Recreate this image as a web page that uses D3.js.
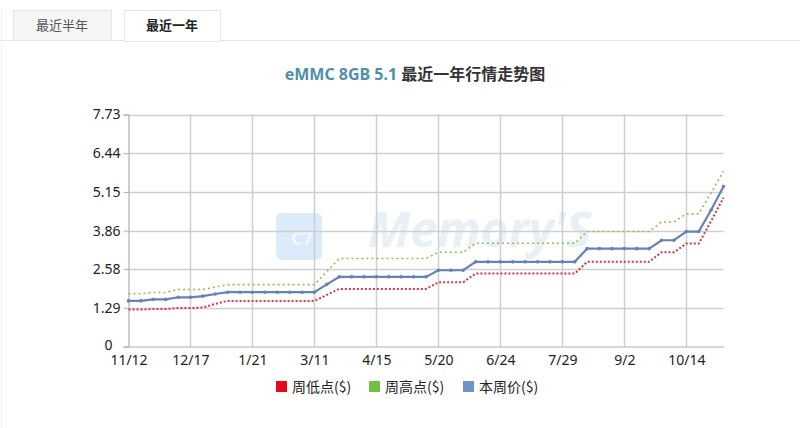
<!DOCTYPE html>
<html><head><meta charset="utf-8">
<script src="https://cdn.jsdelivr.net/npm/d3@7"></script>
<style>
html,body{margin:0;padding:0;background:#fff;}
svg{display:block;font-family:"Noto Sans","Noto Sans CJK SC",sans-serif;}
</style></head>
<body>
<svg id="chart" width="800" height="428"></svg>
<script>
const dates = ["11/12","11/19","11/26","12/3","12/10","12/17","12/24","12/31","1/7","1/14",
  "1/21","1/28","2/4","2/25","3/4","3/11","3/18","3/25","4/1","4/8",
  "4/15","4/22","4/29","5/6","5/13","5/20","5/27","6/3","6/10","6/17",
  "6/24","7/1","7/8","7/15","7/22","7/29","8/5","8/12","8/19","8/26",
  "9/2","9/9","9/16","9/23","9/30","10/14","10/21","10/28","11/4"];
const lowValues = [1.23,1.23,1.25,1.25,1.28,1.28,1.30,1.42,1.52,1.52,
  1.52,1.52,1.52,1.52,1.52,1.52,1.72,1.92,1.92,1.92,
  1.92,1.92,1.92,1.92,1.92,2.14,2.14,2.14,2.43,2.43,
  2.43,2.43,2.43,2.43,2.43,2.43,2.43,2.82,2.82,2.82,
  2.82,2.82,2.82,3.14,3.14,3.43,3.43,4.18,4.96];
const highValues = [1.76,1.76,1.80,1.80,1.90,1.90,1.90,1.98,2.06,2.06,
  2.06,2.06,2.06,2.06,2.06,2.06,2.50,2.93,2.93,2.93,
  2.93,2.93,2.93,2.93,2.93,3.14,3.14,3.14,3.44,3.44,
  3.44,3.44,3.44,3.44,3.44,3.44,3.44,3.83,3.83,3.83,
  3.83,3.83,3.83,4.15,4.15,4.42,4.42,5.12,5.84];
const priceValues = [1.52,1.52,1.57,1.57,1.64,1.64,1.68,1.75,1.81,1.81,
  1.81,1.81,1.81,1.81,1.81,1.81,2.07,2.32,2.32,2.32,
  2.32,2.32,2.32,2.32,2.32,2.54,2.54,2.54,2.82,2.82,
  2.82,2.82,2.82,2.82,2.82,2.82,2.82,3.26,3.26,3.26,
  3.26,3.26,3.26,3.54,3.54,3.83,3.83,4.55,5.33];
const yTicks = [0,1.29,2.58,3.86,5.15,6.44,7.73];
const xLabels = ["11/12","12/17","1/21","3/11","4/15","5/20","6/24","7/29","9/2","10/14"];
const seriesNames = ["周低点($)","周高点($)","本周价($)"];
const tabs = ["最近半年","最近一年"];
const titleA = "eMMC 8GB 5.1";
const titleB = " 最近一年行情走势图";

const svg = d3.select("#chart");

// tabs
svg.append("line").attr("x1",0).attr("x2",800).attr("y1",40.5).attr("y2",40.5).attr("stroke","#e6e6e6");
svg.append("line").attr("x1",1.5).attr("x2",1.5).attr("y1",10).attr("y2",428).attr("stroke","#f0f0f0");
const tabX = [13,124], tabW = [98,96];
tabs.forEach((t,i)=>{
  svg.append("rect").attr("x",tabX[i]+0.5).attr("y",10.5).attr("width",tabW[i]).attr("height",i===1?31:30)
    .attr("fill",i===1?"#fff":"#f6f6f6").attr("stroke","#e6e6e6");
  svg.append("text").attr("x",tabX[i]+tabW[i]/2).attr("y",30).attr("text-anchor","middle")
    .attr("font-size",13).attr("font-family","Noto Sans CJK SC")
    .attr("font-weight",i===1?"bold":"normal").attr("fill",i===1?"#222":"#555").text(t);
});

// title
const title = svg.append("text").attr("x",415).attr("y",80).attr("text-anchor","middle")
  .attr("font-size",16).attr("font-weight","bold").attr("font-family","'Noto Sans','Noto Sans CJK SC'");
title.append("tspan").attr("fill","#4f8fa6").text(titleA);
title.append("tspan").attr("fill","#333").text(titleB);

const x = d3.scalePoint().domain(dates).range([128.5,723.5]);
const y = d3.scaleLinear().domain([0,7.73]).range([346.5,114.5]);

// watermark
const wm = svg.append("g").attr("opacity",0.55);
wm.append("rect").attr("x",276).attr("y",213).attr("width",46).attr("height",47).attr("rx",6).attr("fill","#bcdcf5");
wm.append("text").attr("x",291).attr("y",245).attr("font-size",18).attr("fill","#e8f2fb").attr("font-weight","bold").text("C7");
wm.append("text").attr("x",368).attr("y",247).attr("font-size",48).attr("font-style","italic").attr("font-weight","bold")
  .attr("fill","#d6e4ef").attr("font-family","Open Sans").text("Memory'S");

// gridlines
const g = svg.append("g");
g.selectAll(".hg").data(yTicks.slice(1)).join("line")
  .attr("x1",128.5).attr("x2",723.5).attr("y1",d=>Math.round(y(d))+0.5).attr("y2",d=>Math.round(y(d))+0.5)
  .attr("stroke","#cfcfcf").attr("stroke-width",1.5);
g.selectAll(".vg").data(xLabels.slice(1)).join("line")
  .attr("x1",d=>Math.round(x(d))+0.5).attr("x2",d=>Math.round(x(d))+0.5).attr("y1",114.5).attr("y2",346.5)
  .attr("stroke","#cfcfcf").attr("stroke-width",1.5);

// axes
const yAxis = d3.axisLeft(y).tickValues(yTicks).tickSize(5).tickPadding(3).tickFormat(d=>d===0?"0":d.toFixed(2));
const yg = svg.append("g").attr("transform","translate(128.5,0)").call(yAxis);
const xAxis = d3.axisBottom(x).tickValues(xLabels).tickSize(0).tickPadding(10);
const xg = svg.append("g").attr("transform","translate(0,346.5)").call(xAxis);
[yg,xg].forEach(a=>{
  a.select(".domain").attr("stroke","#b0b0b0").attr("stroke-width",1.2);
  a.selectAll(".tick line").attr("stroke","#b0b0b0");
  a.selectAll("text").attr("font-size",14).attr("fill","#222").attr("font-family","'Noto Sans'");
});
xg.selectAll("text").attr("dy","0.6em");
yg.selectAll(".tick text").filter(d=>d===0).attr("x",-16).attr("dy","0.2em");

// lines
const colors = ["#d4354a","#8cc152","#6682b6"];
const legendColors = ["#e8081c","#72c043","#6f93c9"];
const seriesData = [lowValues,highValues,priceValues];
const line = d3.line().x((d,i)=>x(dates[i])).y(d=>y(d));
seriesData.forEach((vals,k)=>{
  const p = svg.append("path").datum(vals).attr("d",line).attr("fill","none").attr("stroke",colors[k]);
  if(k===0) p.attr("stroke-width",2).attr("stroke-dasharray","2,2");
  else if(k===1) p.attr("stroke-width",1.6).attr("stroke-dasharray","2,3");
  else p.attr("stroke-width",2.2);
  if(k===2){
    svg.append("g").selectAll("circle").data(vals).join("circle")
      .attr("cx",(d,i)=>x(dates[i])).attr("cy",d=>y(d)).attr("r",1.8).attr("fill",colors[k]);
  }
});

// legend
const legX = [276,369,463];
seriesNames.forEach((n,i)=>{
  svg.append("rect").attr("x",legX[i]).attr("y",381).attr("width",11).attr("height",11).attr("fill",legendColors[i]);
  svg.append("text").attr("x",legX[i]+16).attr("y",391.5).attr("font-size",14).attr("fill","#222")
    .attr("font-family","'Noto Sans CJK SC'").text(n);
});
</script>
</body></html>
